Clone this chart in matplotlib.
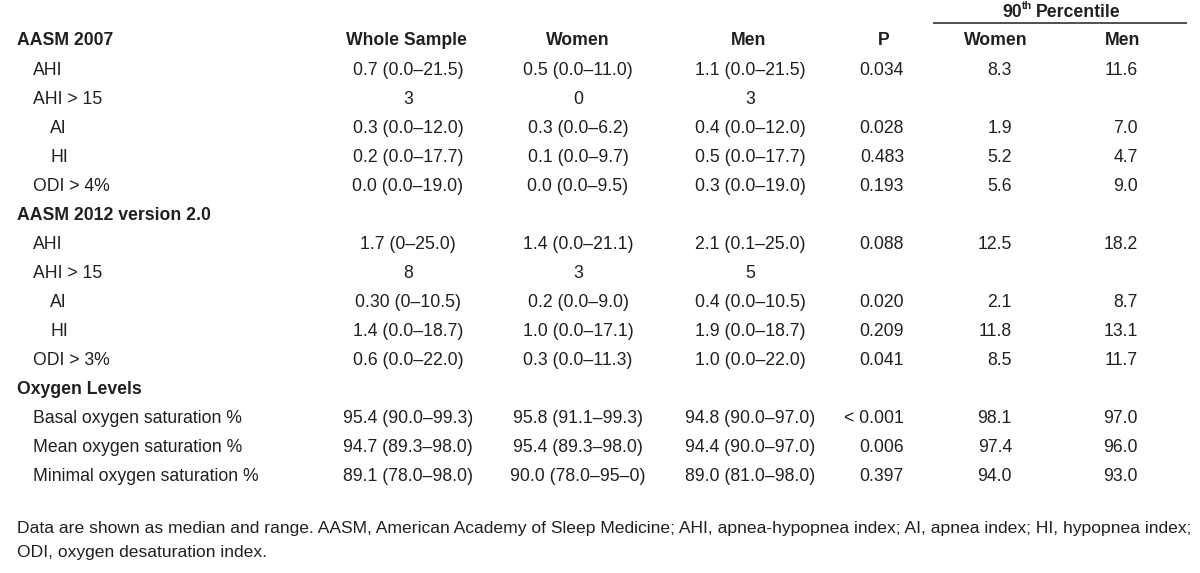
import matplotlib.pyplot as plt

# Table content
col_headers = ['Whole Sample', 'Women', 'Men', 'P', 'Women', 'Men']

# (label, indent level, is_section)
row_labels = [
    ('AASM 2007', 0, True),
    ('AHI', 1, False),
    ('AHI > 15', 1, False),
    ('AI', 2, False),
    ('HI', 2, False),
    ('ODI > 4%', 1, False),
    ('AASM 2012 version 2.0', 0, True),
    ('AHI', 1, False),
    ('AHI > 15', 1, False),
    ('AI', 2, False),
    ('HI', 2, False),
    ('ODI > 3%', 1, False),
    ('Oxygen Levels', 0, True),
    ('Basal oxygen saturation %', 1, False),
    ('Mean oxygen saturation %', 1, False),
    ('Minimal oxygen saturation %', 1, False),
]

whole = ['', '0.7 (0.0–21.5)', '3', '0.3 (0.0–12.0)', '0.2 (0.0–17.7)', '0.0 (0.0–19.0)',
         '', '1.7 (0–25.0)', '8', '0.30 (0–10.5)', '1.4 (0.0–18.7)', '0.6 (0.0–22.0)',
         '', '95.4 (90.0–99.3)', '94.7 (89.3–98.0)', '89.1 (78.0–98.0)']
women = ['', '0.5 (0.0–11.0)', '0', '0.3 (0.0–6.2)', '0.1 (0.0–9.7)', '0.0 (0.0–9.5)',
         '', '1.4 (0.0–21.1)', '3', '0.2 (0.0–9.0)', '1.0 (0.0–17.1)', '0.3 (0.0–11.3)',
         '', '95.8 (91.1–99.3)', '95.4 (89.3–98.0)', '90.0 (78.0–95–0)']
men = ['', '1.1 (0.0–21.5)', '3', '0.4 (0.0–12.0)', '0.5 (0.0–17.7)', '0.3 (0.0–19.0)',
       '', '2.1 (0.1–25.0)', '5', '0.4 (0.0–10.5)', '1.9 (0.0–18.7)', '1.0 (0.0–22.0)',
       '', '94.8 (90.0–97.0)', '94.4 (90.0–97.0)', '89.0 (81.0–98.0)']
p_vals = ['', '0.034', '', '0.028', '0.483', '0.193',
          '', '0.088', '', '0.020', '0.209', '0.041',
          '', '< 0.001', '0.006', '0.397']
p90_women = ['', '8.3', '', '1.9', '5.2', '5.6',
             '', '12.5', '', '2.1', '11.8', '8.5',
             '', '98.1', '97.4', '94.0']
p90_men = ['', '11.6', '', '7.0', '4.7', '9.0',
           '', '18.2', '', '8.7', '13.1', '11.7',
           '', '97.0', '96.0', '93.0']

footnote = ['Data are shown as median and range. AASM, American Academy of Sleep Medicine; '
            'AHI, apnea-hypopnea index; AI, apnea index; HI, hypopnea index;',
            'ODI, oxygen desaturation index.']

plt.rcParams['font.family'] = ['Liberation Sans', 'DejaVu Sans']
ink = '#231f20'
fs = 12.7

fig = plt.figure(figsize=(12, 5.73), dpi=100)
ax = fig.add_axes([0, 0, 1, 1])
ax.set_xlim(0, 1200)
ax.set_ylim(573, 0)
ax.axis('off')
renderer = fig.canvas.get_renderer()

# column anchors (x, alignment)
cols = [(408, 'center'), (578, 'center'), (750, 'center'),
        (904, 'right'), (1012, 'right'), (1138, 'right')]
head_x = [406, 578, 749, 884, 996, 1123]
cap = 6.6          # half cap height in px, to put text on a baseline
head_y = 38.5
row0, dy = 68, 29.0
indent_x = [17, 33, 50]

# group header "90th Percentile" with a raised "th"
t90 = ax.text(1002, 10 + cap, '90', fontsize=fs, weight='bold', color=ink,
              ha='left', va='baseline')
x_th = ax.transData.inverted().transform(t90.get_window_extent(renderer))[1][0]
t_th = ax.text(x_th + 0.5, 9, 'th', fontsize=fs * 0.6, weight='bold', color=ink,
               ha='left', va='baseline')
x_pc = ax.transData.inverted().transform(t_th.get_window_extent(renderer))[1][0]
ax.text(x_pc + 4, 10 + cap, 'Percentile', fontsize=fs, weight='bold', color=ink,
        ha='left', va='baseline')
ax.plot([933, 1187], [23, 23], color=ink, lw=1.1, solid_capstyle='butt')

for x, h in zip(head_x, col_headers):
    ax.text(x, head_y + cap, h, fontsize=fs, weight='bold', color=ink,
            ha='center', va='baseline')

columns = [whole, women, men, p_vals, p90_women, p90_men]
for i, (lab, lvl, sec) in enumerate(row_labels):
    y = head_y if i == 0 else row0 + (i - 1) * dy
    ax.text(indent_x[lvl], y + cap, lab, fontsize=fs, weight='bold' if sec else 'normal',
            color=ink, ha='left', va='baseline')
    if i == 0:
        continue
    for (x, al), col in zip(cols, columns):
        if col[i]:
            ax.text(x, y + cap, col[i], fontsize=fs, color=ink, ha=al, va='baseline')

# footnote, sized so the first line spans the table width
fn = ax.text(17, 0, footnote[0], fontsize=fs, color=ink, ha='left', va='baseline')
bb = ax.transData.inverted().transform(fn.get_window_extent(renderer))
fs_fn = fs * (1190 - 17) / (bb[1][0] - bb[0][0])
fn.remove()
for j, line in enumerate(footnote):
    ax.text(17, 533 + j * 24, line, fontsize=fs_fn, color=ink, ha='left', va='baseline')

fig.savefig('out.png', dpi=100, facecolor='white')
